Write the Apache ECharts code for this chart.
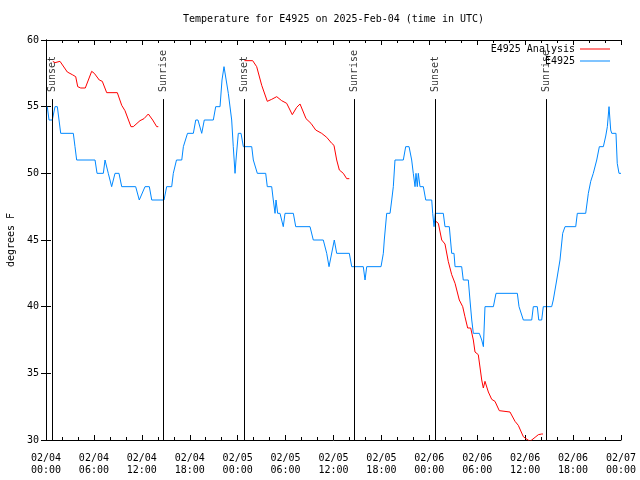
<!DOCTYPE html>
<html>
<head>
<meta charset="utf-8">
<script src="https://cdn.jsdelivr.net/npm/echarts@6/dist/echarts.min.js"></script>
<style>html,body{margin:0;padding:0;background:#fff}#c{width:640px;height:480px}</style>
</head>
<body>
<div id="c"></div>
<script>
// hours since 2025-02-04 00:00 UTC
const tickLabels = ['02/04\n00:00','02/04\n06:00','02/04\n12:00','02/04\n18:00','02/05\n00:00','02/05\n06:00','02/05\n12:00','02/05\n18:00','02/06\n00:00','02/06\n06:00','02/06\n12:00','02/06\n18:00','02/07\n00:00'];

const obsHours = [0.16,0.31,0.38,0.79,1.13,1.42,1.63,1.84,3.42,3.63,3.84,6.14,6.39,7.18,7.39,7.80,8.22,8.39,8.64,9.14,9.48,11.23,11.68,11.83,12.40,12.94,13.24,14.78,15.11,15.74,15.94,16.34,17.00,17.20,17.72,18.45,18.75,19.03,19.50,19.82,20.95,21.25,21.79,22.04,22.29,22.50,22.83,23.25,23.45,23.67,23.79,24.08,24.42,24.71,25.76,25.96,26.46,27.51,27.71,28.26,28.46,28.68,28.80,29.01,29.30,29.71,29.93,30.97,31.27,33.06,33.47,34.72,35.15,35.44,35.69,36.10,36.40,37.98,38.28,39.73,39.95,40.16,41.95,42.24,42.36,42.66,43.08,43.29,43.49,43.70,44.74,45.04,45.46,45.79,45.99,46.21,46.33,46.49,46.62,46.83,47.25,47.55,48.30,48.42,48.59,48.75,49.75,49.96,50.50,50.80,51.09,51.22,52.05,52.25,52.88,53.09,53.31,53.51,54.26,54.56,54.77,54.97,56.02,56.35,59.02,59.23,59.77,60.82,61.02,61.52,61.70,62.07,62.27,63.32,63.52,63.95,64.36,64.70,64.99,66.33,66.53,67.58,67.91,68.21,68.53,68.75,68.96,69.29,69.79,70.09,70.29,70.50,70.71,70.84,71.37,71.53,71.75,72.00];
const obsTemps = [55,55,54,54,55,55,54,53,53,52,51,51,50,50,51,50,49,49,50,50,49,49,48,48,49,49,48,48,49,49,50,51,51,52,53,53,54,54,53,54,54,55,55,57,58,58,56,54,52,50,51,53,53,52,52,51,50,50,49,49,48,47,48,47,47,46,47,47,46,46,45,45,44,43,43,45,44,44,43,43,42,43,43,44,45,47,47,48,49,51,51,52,52,51,50,49,50,49,50,49,49,48,48,47,46,47,47,46,46,44,44,43,43,42,42,40.5,39,38,38,37.5,37,40,40,41,41,40,39,39,40,40,39,39,40,40,40.5,42,43.5,45.5,46,46,47,47,48.5,49.4,50,50,51,52,52,52.8,53.5,55,53.25,53,53,50.75,50,50];

const anaHours1 = [0.85,1.13,1.75,2.00,2.67,3.29,3.72,3.97,4.35,4.92,5.72,6.05,6.67,7.05,7.60,8.93,9.48,9.89,10.64,10.93,11.77,12.27,12.81,13.36,13.86,14.06];
const anaTemps1 = [58.4,58.3,58.4,58.3,57.6,57.4,57.25,56.5,56.4,56.4,57.65,57.5,57.0,56.9,56.05,56.05,55.1,54.7,53.5,53.5,53.95,54.1,54.45,54.0,53.5,53.5];
const anaHours2 = [24.85,25.88,26.38,27.01,27.71,28.26,28.89,29.51,30.14,30.84,31.39,31.81,32.56,33.18,33.77,34.52,35.15,35.78,36.06,36.40,36.73,37.23,37.65,37.98];
const anaTemps2 = [58.45,58.45,58.0,56.6,55.4,55.55,55.75,55.45,55.25,54.4,54.95,55.2,54.1,53.75,53.25,53.0,52.7,52.25,52.1,51.0,50.25,50.0,49.6,49.6];
const anaHours3 = [48.71,49.13,49.55,49.96,50.37,50.80,51.22,51.75,52.18,52.46,52.80,53.18,53.51,53.72,54.13,54.56,54.76,54.97,55.39,55.81,56.22,56.76,58.10,58.73,59.14,59.77,60.11,60.61,61.24,61.65,62.07,62.23];
const anaTemps3 = [46.45,46.25,45.0,44.7,43.4,42.4,41.75,40.5,40.0,39.25,38.4,38.4,37.5,36.6,36.4,34.5,33.9,34.4,33.6,33.05,32.9,32.2,32.1,31.4,31.1,30.25,30.1,29.9,30.2,30.4,30.45,30.45];

const eventNames = ['Sunset','Sunrise','Sunset','Sunrise','Sunset','Sunrise'];
const eventHours = [0.79, 14.69, 24.83, 38.61, 48.75, 62.65];

const FONT = "'DejaVu Sans Mono', monospace";
const zip = (a, b) => a.map((v, i) => [v, b[i]]);
const anaData = zip(anaHours1, anaTemps1).concat([[null, null]], zip(anaHours2, anaTemps2), [[null, null]], zip(anaHours3, anaTemps3));

const chart = echarts.init(document.getElementById('c'), null, {renderer: 'canvas'});
const axisCommon = {
  axisLine: {show: true, lineStyle: {color: '#000', width: 1}},
  axisTick: {show: true, inside: true, length: 5, lineStyle: {color: '#000'}},
  splitLine: {show: false}
};
chart.setOption({
  animation: false,
  backgroundColor: '#fff',
  title: {
    text: 'Temperature for E4925 on 2025-Feb-04 (time in UTC)',
    left: 183, top: 14, padding: 0,
    textStyle: {fontFamily: FONT, fontSize: 10, fontWeight: 'normal', color: '#000'}
  },
  legend: {
    data: ['E4925 Analysis', 'E4925'],
    orient: 'vertical', right: 30, top: 44, align: 'right',
    itemWidth: 30, itemHeight: 1, itemGap: 2, padding: 0,
    icon: 'rect',
    textStyle: {fontFamily: FONT, fontSize: 10, color: '#000'}
  },
  grid: {left: 46, right: 19, top: 40, bottom: 40, containLabel: false, outerBoundsMode: 'none'},
  xAxis: [
    Object.assign({}, axisCommon, {
      type: 'value', min: 0, max: 72, interval: 6, position: 'bottom',
      minorTick: {show: true, splitNumber: 3, length: 3, lineStyle: {color: '#000'}},
      axisLabel: {formatter: v => tickLabels[Math.round(v / 6)], margin: 12, lineHeight: 12,
        fontFamily: FONT, fontSize: 10, color: '#000'}
    }),
    Object.assign({}, axisCommon, {
      type: 'value', min: 0, max: 72, interval: 6, position: 'top',
      minorTick: {show: true, splitNumber: 3, length: 3, lineStyle: {color: '#000'}},
      axisLabel: {show: false}
    })
  ],
  yAxis: [
    Object.assign({}, axisCommon, {
      type: 'value', min: 30, max: 60, interval: 5, position: 'left',
      name: 'degrees F', nameLocation: 'middle', nameGap: 30,
      nameTextStyle: {fontFamily: FONT, fontSize: 10, color: '#000'},
      axisLabel: {margin: 7, fontFamily: FONT, fontSize: 10, color: '#000'}
    }),
    Object.assign({}, axisCommon, {
      type: 'value', min: 30, max: 60, interval: 5, position: 'right',
      axisLabel: {show: false}
    })
  ],
  series: [
    {
      name: 'E4925 Analysis', type: 'line', data: anaData, connectNulls: false,
      showSymbol: false, symbol: 'none', color: '#ff0000',
      lineStyle: {color: '#ff0000', width: 1}, clip: true, z: 2
    },
    {
      name: 'E4925', type: 'line', data: zip(obsHours, obsTemps),
      showSymbol: false, symbol: 'none', color: '#0088ff',
      lineStyle: {color: '#0088ff', width: 1}, clip: true, z: 3
    },
    {
      name: 'events', type: 'scatter', symbolSize: 0, silent: true, z: 4,
      data: eventHours.map((h, i) => ({value: [h, 56.1], name: eventNames[i]})),
      label: {show: true, formatter: '{b}', rotate: 90, position: 'inside',
        align: 'left', verticalAlign: 'middle', fontFamily: FONT, fontSize: 10, color: '#000'},
      markLine: {
        silent: true, symbol: ['none', 'none'], label: {show: false},
        lineStyle: {color: '#000', width: 1, type: 'solid'},
        data: eventHours.map(h => [{coord: [h, 55.57]}, {coord: [h, 30]}])
      }
    }
  ]
});
</script>
</body>
</html>
